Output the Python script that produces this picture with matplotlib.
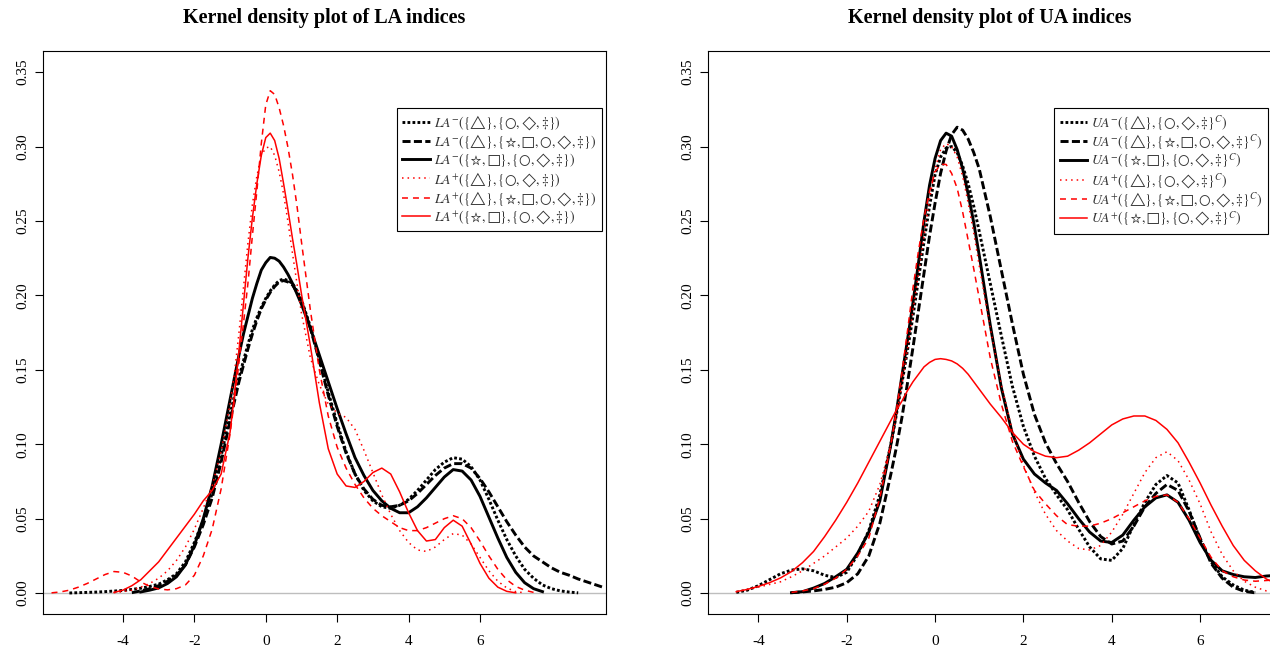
import numpy as np
import matplotlib
matplotlib.use("Agg")
import matplotlib.pyplot as plt

plt.rcParams["font.family"] = ["Liberation Serif", "DejaVu Serif"]
plt.rcParams["mathtext.fontset"] = "stix"
plt.rcParams["axes.unicode_minus"] = False
plt.rcParams["lines.scale_dashes"] = False

nan = np.nan

# x positions where the density curves were read off the picture
# (finer step around the main peak)
x_la = np.concatenate([np.arange(-6.0, -0.9, 0.25), np.arange(-0.875, 0.9, 0.125),
                       np.arange(1.0, 9.6, 0.25)])
x_ua = np.concatenate([np.arange(-4.75, -0.9, 0.25), np.arange(-0.875, 0.9, 0.125),
                       np.arange(1.0, 7.8, 0.25)])

# --- LA panel ---
la_minus_1 = [nan, nan, 0.0001, 0.0003, 0.0005, 0.0007, 0.001, 0.0014,
              0.0018, 0.0025, 0.0033, 0.0045, 0.006, 0.009, 0.013, 0.021,
              0.034, 0.049, 0.067, 0.092, 0.12,
              0.133, 0.145, 0.156, 0.167, 0.177, 0.185, 0.192, 0.198,
              0.203, 0.207, 0.21, 0.211, 0.21, 0.208, 0.203,
              0.197, 0.179, 0.157, 0.135, 0.114, 0.095, 0.08, 0.069,
              0.062, 0.058, 0.057, 0.059, 0.063, 0.069, 0.076, 0.083,
              0.088, 0.091, 0.09, 0.085, 0.076, 0.063, 0.049, 0.036,
              0.025, 0.016, 0.01, 0.0055, 0.003, 0.0015, 0.0007, 0.0002,
              nan, nan, nan]
la_minus_2 = [nan, nan, nan, nan, nan, nan, nan, nan,
              nan, 0.0003, 0.0015, 0.003, 0.005, 0.008, 0.012, 0.019,
              0.031, 0.046, 0.064, 0.088, 0.116,
              0.129, 0.142, 0.153, 0.164, 0.174, 0.183, 0.191, 0.197,
              0.202, 0.206, 0.209, 0.21, 0.209, 0.207, 0.202,
              0.196, 0.178, 0.156, 0.133, 0.112, 0.094, 0.08, 0.07,
              0.063, 0.059, 0.058, 0.059, 0.062, 0.067, 0.073, 0.079,
              0.084, 0.087, 0.087, 0.084, 0.077, 0.068, 0.058, 0.048,
              0.039, 0.031, 0.025, 0.021, 0.017, 0.014, 0.012, 0.0095,
              0.0075, 0.0055, 0.0035]
la_minus_3 = [nan, nan, nan, nan, nan, nan, nan, nan,
              nan, nan, 0.0008, 0.002, 0.0035, 0.0065, 0.011, 0.019,
              0.032, 0.05, 0.072, 0.1, 0.13,
              0.145, 0.16, 0.174, 0.186, 0.198, 0.208, 0.217, 0.222,
              0.2255, 0.225, 0.223, 0.219, 0.214, 0.208, 0.201,
              0.194, 0.178, 0.16, 0.142, 0.124, 0.107, 0.091, 0.079,
              0.069, 0.062, 0.057, 0.054, 0.054, 0.058, 0.064, 0.071,
              0.078, 0.083, 0.082, 0.076, 0.065, 0.051, 0.037, 0.024,
              0.014, 0.007, 0.003, 0.001, nan, nan, nan, nan,
              nan, nan, nan]
la_plus_1 = [nan, nan, nan, nan, nan, nan, nan, 0.0003,
             0.001, 0.002, 0.004, 0.0065, 0.01, 0.015, 0.022, 0.031,
             0.043, 0.057, 0.072, 0.095, 0.127,
             0.148, 0.175, 0.205, 0.235, 0.261, 0.28, 0.294, 0.299,
             0.3, 0.294, 0.283, 0.268, 0.249, 0.228, 0.208,
             0.188, 0.158, 0.14, 0.127, 0.121, 0.118, 0.11, 0.096,
             0.081, 0.066, 0.053, 0.042, 0.034, 0.029, 0.028, 0.031,
             0.036, 0.04, 0.039, 0.033, 0.024, 0.015, 0.008, 0.0035,
             0.001, 0.0002, nan, nan, nan, nan, nan, nan,
             nan, nan, nan]
la_plus_2 = [0.0002, 0.0008, 0.002, 0.004, 0.0065, 0.0095, 0.0125, 0.0145,
             0.014, 0.0115, 0.0075, 0.0045, 0.0028, 0.0022, 0.003, 0.0055,
             0.012, 0.025, 0.043, 0.07, 0.107,
             0.13, 0.155, 0.181, 0.208, 0.24, 0.27, 0.302, 0.328,
             0.3375, 0.335, 0.326, 0.314, 0.299, 0.281, 0.26,
             0.236, 0.19, 0.15, 0.119, 0.098, 0.084, 0.073, 0.064,
             0.057, 0.052, 0.048, 0.044, 0.042, 0.042, 0.044, 0.047,
             0.05, 0.052, 0.05, 0.044, 0.035, 0.025, 0.016, 0.009,
             0.0045, 0.002, 0.0005, nan, nan, nan, nan, nan,
             nan, nan, nan]
la_plus_3 = [nan, nan, nan, nan, nan, nan, nan, 0.0005,
             0.002, 0.005, 0.009, 0.015, 0.021, 0.029, 0.037, 0.045,
             0.053, 0.062, 0.069, 0.08, 0.108,
             0.134, 0.163, 0.194, 0.225, 0.252, 0.275, 0.294, 0.306,
             0.309, 0.304, 0.292, 0.275, 0.257, 0.238, 0.22,
             0.201, 0.166, 0.128, 0.097, 0.08, 0.072, 0.071, 0.075,
             0.081, 0.084, 0.08, 0.068, 0.054, 0.042, 0.035, 0.036,
             0.044, 0.049, 0.045, 0.033, 0.02, 0.01, 0.004, 0.0012,
             0.0002, nan, nan, nan, nan, nan, nan, nan,
             nan, nan, nan]

# --- UA panel ---
ua_minus_1 = [nan, 0.0005, 0.002, 0.005, 0.009, 0.013, 0.0155, 0.0163,
              0.015, 0.012, 0.0105, 0.014, 0.026, 0.042, 0.066, 0.1,
              0.12, 0.141, 0.163, 0.186, 0.211, 0.236, 0.26, 0.281,
              0.293, 0.299, 0.3, 0.296, 0.287, 0.275, 0.26,
              0.243, 0.208, 0.173, 0.139, 0.112, 0.092, 0.077, 0.066,
              0.056, 0.043, 0.031, 0.023, 0.022, 0.03, 0.046, 0.061,
              0.073, 0.079, 0.074, 0.056, 0.036, 0.021, 0.011, 0.0055,
              0.002, 0.0005, nan, nan]
ua_minus_2 = [nan, nan, nan, nan, nan, nan, 0.0003, 0.0008,
              0.0015, 0.0025, 0.004, 0.007, 0.013, 0.025, 0.047, 0.08,
              0.098, 0.118, 0.141, 0.165, 0.19, 0.215, 0.24, 0.262,
              0.282, 0.297, 0.308, 0.313, 0.311, 0.305, 0.296,
              0.285, 0.253, 0.217, 0.181, 0.147, 0.12, 0.101, 0.087,
              0.075, 0.061, 0.048, 0.038, 0.033, 0.035, 0.045, 0.058,
              0.067, 0.073, 0.069, 0.055, 0.037, 0.02, 0.01, 0.004,
              0.0012, 0.0002, nan, nan]
ua_minus_3 = [nan, nan, nan, nan, nan, nan, 0.0003, 0.001,
              0.0034, 0.0065, 0.011, 0.016, 0.027, 0.041, 0.062, 0.1,
              0.122, 0.146, 0.17, 0.195, 0.222, 0.25, 0.274, 0.292,
              0.304, 0.309, 0.307, 0.298, 0.285, 0.268, 0.249,
              0.227, 0.18, 0.138, 0.107, 0.09, 0.08, 0.074, 0.069,
              0.06, 0.05, 0.041, 0.035, 0.034, 0.039, 0.049, 0.058,
              0.064, 0.066, 0.061, 0.049, 0.034, 0.022, 0.015, 0.0125,
              0.011, 0.0105, 0.0115, 0.012]
ua_plus_1 = [nan, 0.001, 0.0025, 0.004, 0.0058, 0.0076, 0.011, 0.015,
             0.02, 0.025, 0.031, 0.037, 0.045, 0.055, 0.073, 0.1,
             0.119, 0.14, 0.164, 0.19, 0.215, 0.24, 0.265, 0.285,
             0.298, 0.302, 0.3, 0.293, 0.28, 0.262, 0.242,
             0.22, 0.178, 0.14, 0.109, 0.086, 0.068, 0.053, 0.042,
             0.035, 0.03, 0.029, 0.032, 0.041, 0.053, 0.067, 0.081,
             0.091, 0.095, 0.089, 0.076, 0.06, 0.041, 0.026, 0.015,
             0.008, 0.004, 0.0015, 0.0005]
ua_plus_2 = [nan, nan, nan, nan, nan, nan, 0.0005, 0.0015,
             0.003, 0.006, 0.01, 0.016, 0.025, 0.037, 0.064, 0.1,
             0.123, 0.148, 0.176, 0.205, 0.23, 0.252, 0.27, 0.283,
             0.288, 0.288, 0.282, 0.272, 0.256, 0.237, 0.218,
             0.198, 0.158, 0.127, 0.102, 0.085, 0.069, 0.06, 0.052,
             0.046, 0.045, 0.045, 0.047, 0.05, 0.054, 0.058, 0.062,
             0.065, 0.066, 0.061, 0.05, 0.037, 0.024, 0.015, 0.011,
             0.0088, 0.008, 0.0085, 0.009]
ua_plus_3 = [nan, 0.001, 0.0025, 0.0045, 0.007, 0.0102, 0.0145, 0.0205,
             0.028, 0.038, 0.049, 0.061, 0.074, 0.088, 0.102, 0.116,
             0.123, 0.129, 0.136, 0.142, 0.147, 0.152, 0.155, 0.157,
             0.1575, 0.157, 0.156, 0.154, 0.151, 0.147, 0.142,
             0.137, 0.127, 0.118, 0.108, 0.1, 0.095, 0.092, 0.091,
             0.092, 0.096, 0.101, 0.107, 0.113, 0.117, 0.119, 0.119,
             0.116, 0.11, 0.101, 0.088, 0.074, 0.059, 0.045, 0.032,
             0.022, 0.015, 0.0095, 0.006]

la_labels = [r"$LA^{-}(\{△\},\{○,◇,‡\})$",
             r"$LA^{-}(\{△\},\{☆,□,○,◇,‡\})$",
             r"$LA^{-}(\{☆,□\},\{○,◇,‡\})$",
             r"$LA^{+}(\{△\},\{○,◇,‡\})$",
             r"$LA^{+}(\{△\},\{☆,□,○,◇,‡\})$",
             r"$LA^{+}(\{☆,□\},\{○,◇,‡\})$"]
ua_labels = [r"$UA^{-}(\{△\},\{○,◇,‡\}^{C})$",
             r"$UA^{-}(\{△\},\{☆,□,○,◇,‡\}^{C})$",
             r"$UA^{-}(\{☆,□\},\{○,◇,‡\}^{C})$",
             r"$UA^{+}(\{△\},\{○,◇,‡\}^{C})$",
             r"$UA^{+}(\{△\},\{☆,□,○,◇,‡\}^{C})$",
             r"$UA^{+}(\{☆,□\},\{○,◇,‡\}^{C})$"]

y_ticks = [0.00, 0.05, 0.10, 0.15, 0.20, 0.25, 0.30, 0.35]
x_ticks = [-4, -2, 0, 2, 4, 6]

# line look: dotted / dashed / solid, black thick then red thin
colors = ["black"] * 3 + ["red"] * 3
widths = [2.1] * 3 + [1.1] * 3
dashes = [(2.0, 1.6), (5.8, 2.4), None, (1.1, 2.9), (4.3, 3.6), None]

fig = plt.figure(figsize=(12.7, 6.54), dpi=100)
ax1 = fig.add_axes([0.0341, 0.0612, 0.4431, 0.8604])
ax2 = fig.add_axes([0.5575, 0.0612, 0.4431, 0.8604])

panels = [
    (ax1, x_la, [la_minus_1, la_minus_2, la_minus_3, la_plus_1, la_plus_2, la_plus_3],
     la_labels, "Kernel density plot of LA indices", (-6.23, 9.53), (0.9924, 0.8998)),
    (ax2, x_ua, [ua_minus_1, ua_minus_2, ua_minus_3, ua_plus_1, ua_plus_2, ua_plus_3],
     ua_labels, "Kernel density plot of UA indices", (-5.14, 7.60), (0.9956, 0.8998)),
]

for ax, xs, series, labels, title, xlim, anchor in panels:
    ax.axhline(0, color="#bebebe", lw=1.0, zorder=1)
    for ys, lab, c, w, d in zip(series, labels, colors, widths, dashes):
        line, = ax.plot(xs, ys, color=c, lw=w, label=lab, zorder=2)
        if d is not None:
            line.set_dashes(d)

    ax.set_xlim(*xlim)
    ax.set_ylim(-0.014, 0.364)
    ax.set_xticks(x_ticks)
    ax.set_xticklabels([str(t) for t in x_ticks])
    ax.set_yticks(y_ticks)
    ax.set_yticklabels([f"{t:.2f}" for t in y_ticks], rotation=90, va="center")
    ax.tick_params(axis="both", labelsize=11, length=6, width=0.8, direction="out")
    ax.tick_params(axis="x", pad=9)
    ax.tick_params(axis="y", pad=4)
    for sp in ax.spines.values():
        sp.set_linewidth(0.8)

    ax.set_title(title, fontsize=14.5, fontweight="bold", pad=20)

    leg = ax.legend(loc="upper right", bbox_to_anchor=anchor, fontsize=9.9,
                    frameon=True, fancybox=False, edgecolor="black", framealpha=1,
                    borderpad=0.4, labelspacing=0.03, handlelength=2.0,
                    handletextpad=0.3, borderaxespad=0)
    leg.get_frame().set_linewidth(0.8)
    for t in leg.get_texts():
        t.set_color("#333333")

fig.savefig("out.png", dpi=100)
